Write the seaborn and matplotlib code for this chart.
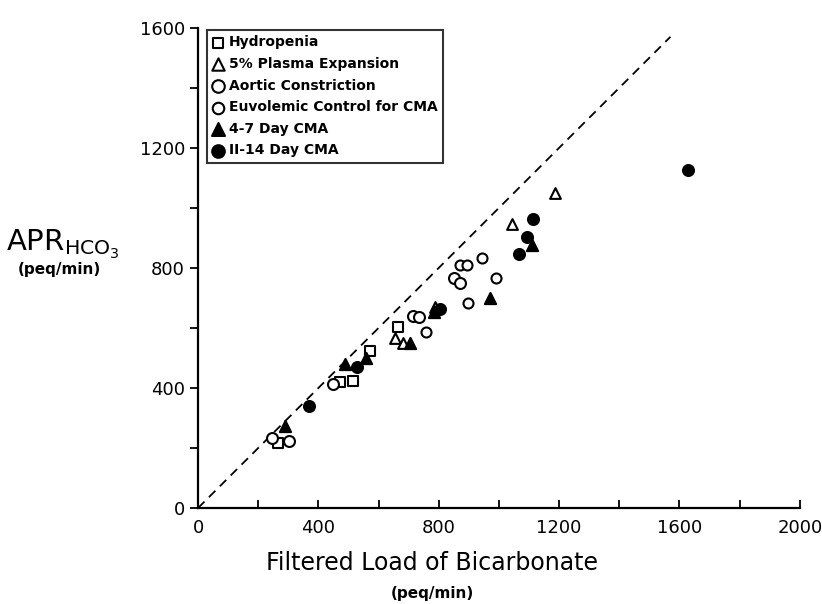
import matplotlib
matplotlib.use('Agg')
import matplotlib.pyplot as plt
import numpy as np
import pandas as pd
import seaborn as sns

# values (peq/min)
hydro_x = [266, 472, 515, 571, 664]
hydro_y = [217, 420, 423, 523, 603]
plasma_x = [654, 681, 786, 1043, 1186]
plasma_y = [567, 550, 670, 947, 1050]
aortic_x = [246, 302, 449, 714, 734, 850, 870]
aortic_y = [233, 223, 413, 640, 637, 767, 750]
euvol_x = [757, 870, 893, 943, 990, 897]
euvol_y = [587, 810, 810, 833, 767, 683]
cma47_x = [289, 488, 558, 704, 784, 970, 1110]
cma47_y = [273, 480, 500, 550, 653, 700, 877]
cma1114_x = [369, 528, 804, 1066, 1093, 1113, 1628]
cma1114_y = [340, 470, 663, 847, 903, 963, 1127]

labels = ['Hydropenia', '5% Plasma Expansion', 'Aortic Constriction',
          'Euvolemic Control for CMA', '4-7 Day CMA', 'II-14 Day CMA']
xs = [hydro_x, plasma_x, aortic_x, euvol_x, cma47_x, cma1114_x]
ys = [hydro_y, plasma_y, aortic_y, euvol_y, cma47_y, cma1114_y]

sns.set_style('ticks')
plt.rcParams['font.family'] = ['DejaVu Sans']
plt.rcParams['text.color'] = 'black'
plt.rcParams['xtick.color'] = 'black'
plt.rcParams['ytick.color'] = 'black'

fig = plt.figure(figsize=(8.22, 6.04), dpi=100)
ax = fig.add_axes([0.241, 0.159, 0.732, 0.795])

m = ['s', '^', 'o', 'o', '^', 'o']          # marker per group
fill = ['white', 'white', 'white', 'white', 'black', 'black']
sz = [45, 60, 62, 52, 65, 62]

for i in range(len(labels)):
    df = pd.DataFrame({'x': xs[i], 'y': ys[i]})
    sns.scatterplot(data=df, x='x', y='y', ax=ax, marker=m[i], s=sz[i],
                    facecolor=fill[i], edgecolor='black', linewidth=1.5,
                    label=labels[i], zorder=3)

# line of identity
ax.plot([0, 1570], [0, 1570], ls=(0, (5, 3.5)), color='black', lw=1.3, zorder=2)

ax.set_xlim(0, 2000)
ax.set_ylim(0, 1600)
ax.set_xticks(np.arange(0, 2001, 200))
ax.set_xticklabels([str(v) if v % 400 == 0 else '' for v in range(0, 2001, 200)])
ax.set_yticks(np.arange(0, 1601, 200))
ax.set_yticklabels([str(v) if v % 400 == 0 else '' for v in range(0, 1601, 200)])
ax.tick_params(axis='x', direction='in', length=6, width=1.3, labelsize=13, pad=8)
ax.tick_params(axis='y', direction='out', length=6, width=1.3, labelsize=13)
for s in ['top', 'right']:
    ax.spines[s].set_visible(False)
for s in ['left', 'bottom']:
    ax.spines[s].set_linewidth(1.6)
    ax.spines[s].set_color('black')
ax.set_xlabel('')
ax.set_ylabel('')

leg = ax.legend(loc='upper left', bbox_to_anchor=(0.014, 0.996), frameon=True,
                fancybox=False, edgecolor='black', handletextpad=0.3,
                borderpad=0.4, labelspacing=0.55, handlelength=0.9,
                markerscale=1.15, prop={'weight': 'bold', 'size': 10},
                borderaxespad=0)
leg.get_frame().set_linewidth(1.5)

fig.text(0.077, 0.595, r'$\mathregular{APR_{HCO_3}}$', fontsize=21, ha='center', va='center')
fig.text(0.072, 0.553, '(peq/min)', fontsize=11, fontweight='bold', ha='center', va='center')
fig.text(0.526, 0.068, 'Filtered Load of Bicarbonate', fontsize=17, ha='center', va='center')
fig.text(0.526, 0.018, '(peq/min)', fontsize=11, fontweight='bold', ha='center', va='center')

plt.savefig('out.png', dpi=100)
